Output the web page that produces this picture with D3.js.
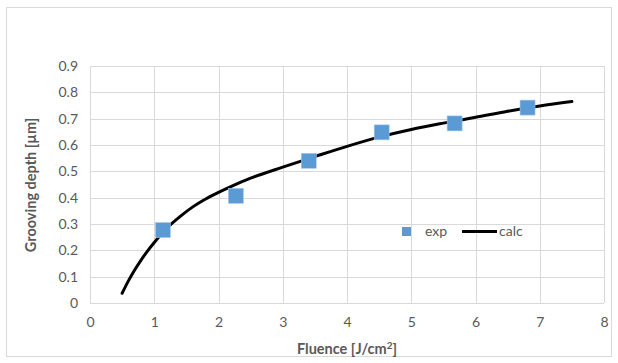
<!DOCTYPE html>
<html>
<head>
<meta charset="utf-8">
<script src="https://cdn.jsdelivr.net/npm/d3@7"></script>
<style>
  body { margin: 0; background: #fff; }
  text { font-family: Lato, "Open Sans", sans-serif; fill: #595959; }
</style>
</head>
<body>
<svg id="chart" width="618" height="363"></svg>
<script>
// measured points
var expFluence = [1.135, 2.27, 3.405, 4.54, 5.675, 6.81];
var expDepth = [0.277, 0.407, 0.54, 0.648, 0.682, 0.742];

// calculated curve
var calcFluence = [0.5, 0.6, 0.7, 0.8, 0.9, 1.0, 1.2, 1.4, 1.6, 1.8, 2.0, 2.2, 2.5, 3.0, 3.5, 4.0, 4.5, 5.0, 5.5, 6.0, 6.5, 7.0, 7.5];
var calcDepth = [0.037, 0.085, 0.127, 0.165, 0.199, 0.23, 0.285, 0.328, 0.365, 0.395, 0.42, 0.443, 0.474, 0.516, 0.556, 0.595, 0.63, 0.659, 0.683, 0.705, 0.728, 0.748, 0.765];

var xTicks = [0, 1, 2, 3, 4, 5, 6, 7, 8];
var yTicks = [0, 0.1, 0.2, 0.3, 0.4, 0.5, 0.6, 0.7, 0.8, 0.9];

var svg = d3.select('#chart');

// chart frame
svg.append('rect').attr('x', 6.5).attr('y', 7.5).attr('width', 605).attr('height', 349)
  .style('fill', 'none').style('stroke', '#d9d9d9');

var x = d3.scaleLinear().domain([0, 8]).range([90, 604]);
var y = d3.scaleLinear().domain([0, 0.9]).range([303, 66]);

// gridlines
svg.append('g').selectAll('line').data(yTicks).enter().append('line')
  .attr('x1', x(0)).attr('x2', x(8))
  .attr('y1', (d) => Math.round(y(d)) + 0.5).attr('y2', (d) => Math.round(y(d)) + 0.5)
  .style('stroke', '#d9d9d9');
svg.append('g').selectAll('line').data(xTicks).enter().append('line')
  .attr('y1', y(0)).attr('y2', y(0.9))
  .attr('x1', (d) => Math.round(x(d)) + 0.5).attr('x2', (d) => Math.round(x(d)) + 0.5)
  .style('stroke', '#d9d9d9');

// axes (labels only)
var xAxis = svg.append('g').attr('transform', 'translate(0,' + y(0) + ')')
  .call(d3.axisBottom(x).tickValues(xTicks).tickSize(0).tickPadding(14).tickFormat(d3.format('d')));
var yAxis = svg.append('g').attr('transform', 'translate(' + x(0) + ',0)')
  .call(d3.axisLeft(y).tickValues(yTicks).tickSize(0).tickPadding(12).tickFormat((d) => d === 0 ? '0' : d3.format('.1f')(d)));
[xAxis, yAxis].forEach((a) => {
  a.select('.domain').remove();
  a.selectAll('text').style('font-size', '14px').style('fill', '#595959')
    .style('font-family', 'Lato, "Open Sans", sans-serif');
});

// calc curve
var calcData = calcFluence.map((f, i) => ({ f: f, d: calcDepth[i] }));
svg.append('path').datum(calcData)
  .attr('d', d3.line().x((d) => x(d.f)).y((d) => y(d.d)).curve(d3.curveMonotoneX))
  .style('fill', 'none').style('stroke', '#000').style('stroke-width', 3).style('stroke-linecap', 'round');

// exp markers
var sq = 15;
svg.append('g').selectAll('rect').data(expFluence).enter().append('rect')
  .attr('x', (d) => x(d) - sq / 2).attr('y', (d, i) => y(expDepth[i]) - sq / 2)
  .attr('width', sq).attr('height', sq)
  .style('fill', '#5b9bd5').style('stroke', '#a9c9ec').style('stroke-width', 0.6);

// legend
var leg = svg.append('g');
leg.append('rect').attr('x', 402).attr('y', 227).attr('width', 9).attr('height', 9).style('fill', '#5b9bd5');
leg.append('text').attr('x', 425).attr('y', 236).text('exp').style('font-size', '14px');
leg.append('line').attr('x1', 462).attr('x2', 497).attr('y1', 231.5).attr('y2', 231.5)
  .style('stroke', '#000').style('stroke-width', 3);
leg.append('text').attr('x', 499).attr('y', 236).text('calc').style('font-size', '14px');

// axis titles
svg.append('text').attr('x', 347).attr('y', 354).attr('text-anchor', 'middle')
  .style('font-size', '14.5px').style('font-weight', 'bold')
  .html('Fluence [J/cm<tspan dy="-5" font-size="10">2</tspan><tspan dy="5">]</tspan>');
svg.append('text').attr('transform', 'translate(36,185) rotate(-90)').attr('text-anchor', 'middle')
  .style('font-size', '14.5px').style('font-weight', 'bold')
  .text('Grooving depth [µm]');
</script>
</body>
</html>
